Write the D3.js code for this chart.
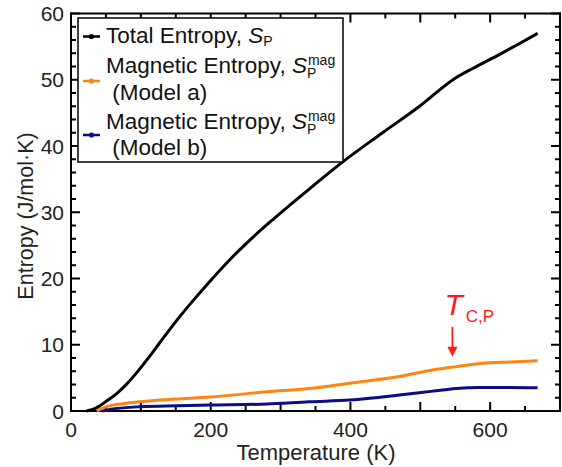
<!DOCTYPE html>
<html>
<head>
<meta charset="utf-8">
<script src="https://cdn.jsdelivr.net/npm/d3@7"></script>
<style>
  body { margin: 0; background: #fff; }
  svg text { font-family: "Liberation Sans", Arial, sans-serif; }
</style>
</head>
<body>
<div id="chart"></div>
<script>

// total entropy S_P
var totalT = [22, 30, 40, 51, 65, 80, 95, 110, 127, 150, 175, 199, 227, 256, 289, 318, 341, 389, 446, 499, 551, 575, 613, 641, 668];
var totalS = [0, 0.2, 0.7, 1.5, 2.6, 4.1, 5.9, 7.9, 10.3, 13.5, 16.7, 19.6, 22.8, 25.8, 28.9, 31.5, 33.5, 37.6, 42.0, 46.0, 50.3, 51.7, 53.8, 55.4, 57.0];

// magnetic entropy, model a
var magAT = [37, 51, 75, 99, 150, 199, 280, 341, 399, 470, 518, 551, 589, 630, 668];
var magAS = [0, 0.65, 1.1, 1.4, 1.8, 2.1, 2.9, 3.4, 4.2, 5.2, 6.2, 6.7, 7.2, 7.4, 7.6];

// magnetic entropy, model b
var magBT = [45, 60, 99, 150, 199, 280, 341, 399, 470, 518, 551, 584, 620, 668];
var magBS = [0, 0.3, 0.65, 0.8, 0.9, 1.05, 1.4, 1.65, 2.4, 3.0, 3.4, 3.55, 3.55, 3.5];

var xTicks = [0, 200, 400, 600];
var yTicks = [0, 10, 20, 30, 40, 50, 60];

// T_C,P arrow: temperature, from, to
var tcT = 546, tcFrom = 12.7, tcTo = 8.2;

var width = 562, height = 467;
var margin = { top: 13.5, right: 2, bottom: 56, left: 71 };

var svg = d3.select("#chart").append("svg")
	.attr("width", width)
	.attr("height", height);

var xs = d3.scaleLinear().domain([0, 700]).range([margin.left, width - margin.right]);
var ys = d3.scaleLinear().domain([0, 60]).range([height - margin.bottom, margin.top]);

var fs = 21;
var bottomY = ys(0), topY = ys(60), leftX = xs(0), rightX = xs(700);

// frame with inward ticks as one comb-shaped path per side
var xAll = d3.range(0, 701, 50), yAll = d3.range(0, 61, 2);
function comb(axisPos, vals, scale, major, horiz, dir) {
	var p = d3.path();
	vals.forEach(function(v, i) {
		var L = v % major === 0 ? 9 : 5;
		var a = scale(v);
		if (horiz) {
			if (i === 0) p.moveTo(a, axisPos); else p.lineTo(a, axisPos);
			p.lineTo(a, axisPos + dir * L);
			p.lineTo(a, axisPos);
		} else {
			if (i === 0) p.moveTo(axisPos, a); else p.lineTo(axisPos, a);
			p.lineTo(axisPos + dir * L, a);
			p.lineTo(axisPos, a);
		}
	});
	return p.toString();
}

var sides = [
	comb(bottomY, xAll, xs, 100, true, -1),
	comb(topY, xAll, xs, 100, true, 1),
	comb(leftX, yAll, ys, 10, false, 1),
	comb(rightX, yAll, ys, 10, false, -1)
];
svg.append("g").selectAll("path")
	.data(sides)
	.join("path")
	.attr("d", function(d) { return d; })
	.attr("fill", "none")
	.attr("stroke", "#000")
	.attr("stroke-width", 2)
	.attr("stroke-linejoin", "miter");

// tick labels
svg.append("g").selectAll("text")
	.data(xTicks)
	.join("text")
	.attr("x", function(d) { return xs(d); })
	.attr("y", 437)
	.attr("text-anchor", "middle")
	.attr("font-size", fs).attr("fill", "#222")
	.text(function(d) { return d; });

svg.append("g").selectAll("text")
	.data(yTicks)
	.join("text")
	.attr("x", leftX - 7)
	.attr("y", function(d) { return ys(d) + 7.5; })
	.attr("text-anchor", "end")
	.attr("font-size", fs).attr("fill", "#222")
	.text(function(d) { return d; });

// axis titles
svg.append("text")
	.attr("x", 316).attr("y", 460)
	.attr("text-anchor", "middle").attr("font-size", 22).attr("fill", "#222")
	.text("Temperature (K)");

svg.append("text")
	.attr("transform", "translate(33,216) rotate(-90)")
	.attr("text-anchor", "middle").attr("font-size", 21.5).attr("fill", "#222")
	.text("Entropy (J/mol·K)");

// data lines
var line = d3.line()
	.x(function(d) { return xs(d[0]); })
	.y(function(d) { return ys(d[1]); })
	.curve(d3.curveMonotoneX);

var series = [
	{ t: magBT, s: magBS, color: "#0c0c8a" },
	{ t: magAT, s: magAS, color: "#ff8412" },
	{ t: totalT, s: totalS, color: "#000" }
];

svg.selectAll("path.series")
	.data(series)
	.join("path")
	.attr("class", "series")
	.attr("fill", "none")
	.attr("stroke", function(d) { return d.color; })
	.attr("stroke-width", 3)
	.attr("d", function(d) { return line(d3.zip(d.t, d.s)); });

// T_C,P annotation
var red = "#ff1a1a";
svg.append("line")
	.attr("x1", xs(tcT)).attr("x2", xs(tcT))
	.attr("y1", ys(tcFrom)).attr("y2", ys(tcTo) - 8)
	.attr("stroke", red).attr("stroke-width", 1.8);
svg.append("path")
	.attr("d", "M" + (xs(tcT) - 5) + "," + (ys(tcTo) - 10) + "L" + (xs(tcT) + 5) + "," + (ys(tcTo) - 10) + "L" + xs(tcT) + "," + ys(tcTo) + "Z")
	.attr("fill", red);
var tc = svg.append("text")
	.attr("x", xs(tcT) - 8).attr("y", ys(tcFrom) - 12)
	.attr("fill", red).attr("font-size", 30);
tc.append("tspan").attr("font-style", "italic").text("T");
tc.append("tspan").attr("font-size", 17).attr("dx", 3).attr("dy", 7).text("C,P");

// legend
var legend = svg.append("g");
legend.append("rect")
	.attr("x", 78).attr("y", 18).attr("width", 265).attr("height", 144)
	.attr("fill", "#fff").attr("stroke", "#000").attr("stroke-width", 1.5);

var legendRows = [
	{ color: "#000", my: 36.5, lines: [{ y: 42.5, name: "Total Entropy, ", sup: null }] },
	{ color: "#ff8412", my: 81, lines: [{ y: 72.5, name: "Magnetic Entropy, ", sup: "mag" }, { y: 100, name: " (Model a)" }] },
	{ color: "#0c0c8a", my: 135, lines: [{ y: 128.5, name: "Magnetic Entropy, ", sup: "mag" }, { y: 155, name: " (Model b)" }] }
];

var lfs = 22.5;
legendRows.forEach(function(r) {
	legend.append("line")
		.attr("x1", 83).attr("x2", 100).attr("y1", r.my).attr("y2", r.my)
		.attr("stroke", r.color).attr("stroke-width", 2.5);
	legend.append("circle")
		.attr("cx", 91.5).attr("cy", r.my).attr("r", 2.6).attr("fill", r.color);
	r.lines.forEach(function(l, i) {
		var t = legend.append("text")
			.attr("x", 106).attr("y", l.y)
			.attr("font-size", lfs).attr("fill", "#111")
			.attr("xml:space", "preserve");
		t.append("tspan").text(l.name);
		if (i === 0) {
			t.append("tspan").attr("font-style", "italic").text("S");
			var w = t.node().getComputedTextLength();
			if (l.sup) {
				t.append("tspan").attr("x", 106 + w + 1).attr("dy", -8)
					.attr("font-size", 14).text(l.sup);
				t.append("tspan").attr("x", 106 + w).attr("dy", 13)
					.attr("font-size", 14).text("P");
			} else {
				t.append("tspan").attr("dy", 3)
					.attr("font-size", 14).text("P");
			}
		}
	});
});

</script>
</body>
</html>
